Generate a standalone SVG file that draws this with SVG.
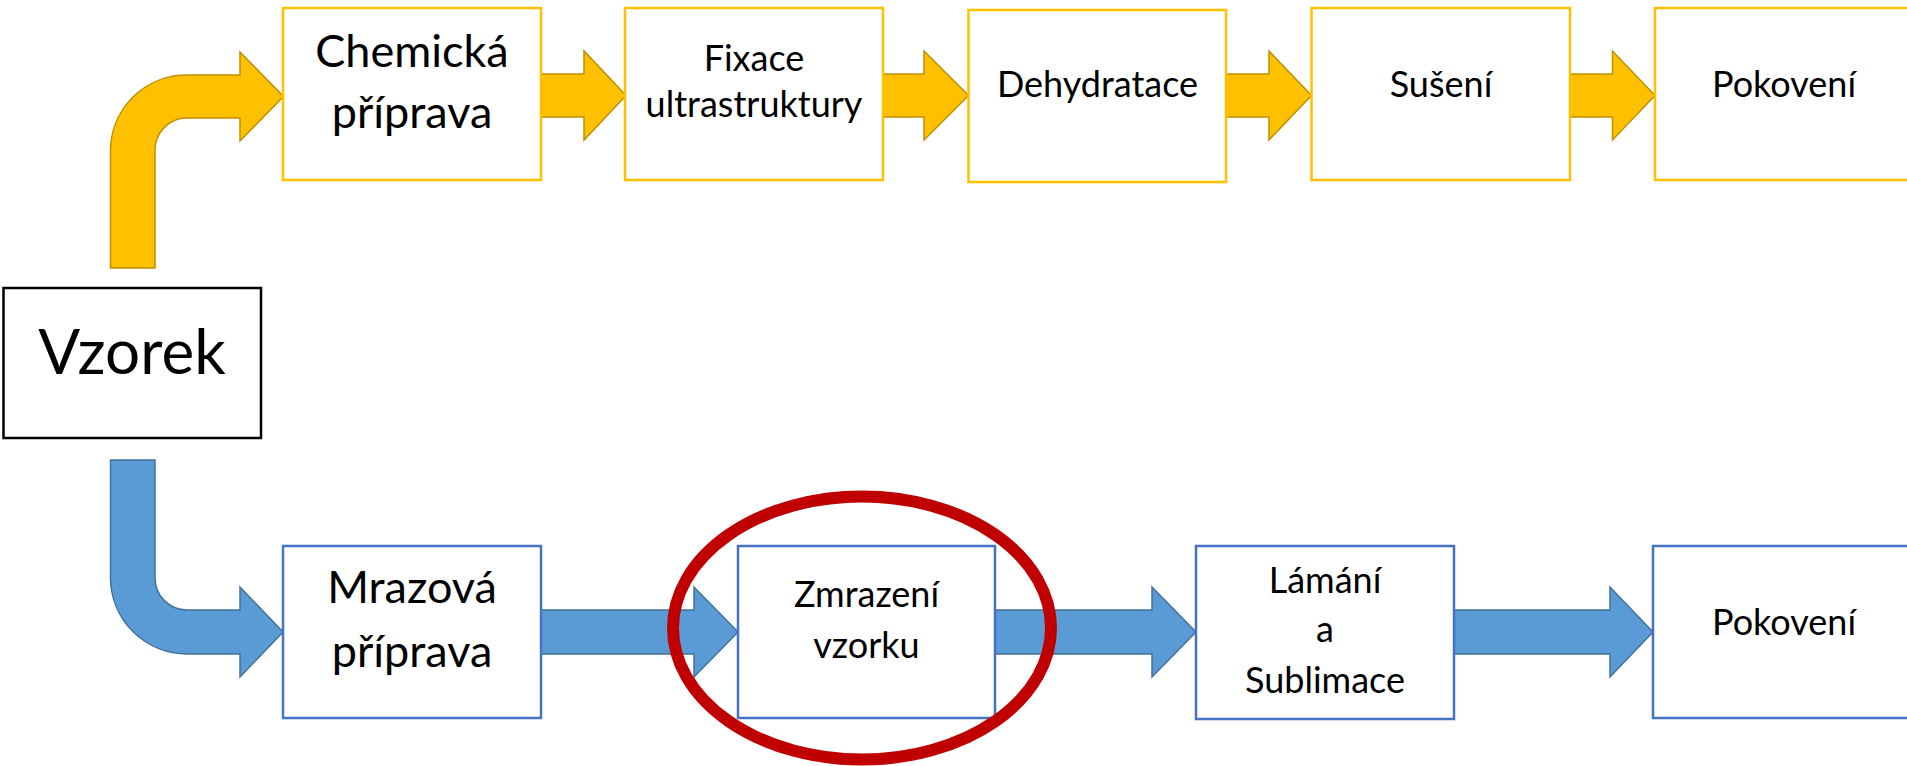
<svg xmlns="http://www.w3.org/2000/svg" width="1907" height="766" viewBox="0 0 1907 766">
  <style>
    .lbl { font-family: Lato, "Liberation Sans", sans-serif; fill: #000; text-anchor: middle; }
    .s { font-size: 36px; }
    .m { font-size: 45px; }
    .l { font-size: 62px; }
    .box-o { fill: #fff; stroke: #FFC000; stroke-width: 2.5; }
    .box-b { fill: #fff; stroke: #4472C4; stroke-width: 2.5; }
    .box-k { fill: #fff; stroke: #000; stroke-width: 2.5; }
    .arr-o { fill: #FFC000; stroke: #BF9000; stroke-width: 1.5; stroke-linejoin: miter; }
    .arr-b { fill: #5B9BD5; stroke: #41719C; stroke-width: 1.5; stroke-linejoin: miter; }
  </style>
  <rect width="1907" height="766" fill="#fff"/>

  <!-- block arrows between the steps -->
  <g id="connectors">
    <!-- upper branch: chemical preparation -->
    <path class="arr-o" d="M110.5,268 L110.5,151 A76,76 0 0 1 186.5,75 L240,75 L240,52 L283.5,96.5 L240,141 L240,118 L187,118 A32,32 0 0 0 155,150 L155,268 Z"/>
    <path class="arr-o" d="M541,74 L584,74 L584,51 L626,95.5 L584,140 L584,117 L541,117 Z"/>
    <path class="arr-o" d="M883,74 L924,74 L924,51 L968.5,95.5 L924,140 L924,117 L883,117 Z"/>
    <path class="arr-o" d="M1226,74 L1269,74 L1269,51 L1311.5,95.5 L1269,140 L1269,117 L1226,117 Z"/>
    <path class="arr-o" d="M1570,74 L1612.5,74 L1612.5,51 L1655,95.5 L1612.5,140 L1612.5,117 L1570,117 Z"/>
    <!-- lower branch: cryo preparation -->
    <path class="arr-b" d="M110.5,460 L155,460 L155,578 A32,32 0 0 0 187,610 L240,610 L240,587 L283,632 L240,677 L240,654 L187,654 A76.5,76.5 0 0 1 110.5,577.5 Z"/>
    <path class="arr-b" d="M541,610 L694,610 L694,587 L738,632 L694,677 L694,654 L541,654 Z"/>
    <path class="arr-b" d="M995,610 L1152,610 L1152,587 L1196,632 L1152,677 L1152,654 L995,654 Z"/>
    <path class="arr-b" d="M1454,610 L1610,610 L1610,587 L1653,632 L1610,677 L1610,654 L1454,654 Z"/>
  </g>

  <g id="vzorek">
    <rect class="box-k" x="3.5" y="288" width="257.5" height="150"/>
    <text class="lbl l" x="132" y="374">Vzorek</text>
  </g>

  <g id="chemicka-priprava">
    <rect class="box-o" x="283" y="8" width="258" height="172"/>
    <text class="lbl m" x="412" y="67">Chemická</text>
    <text class="lbl m" x="412" y="128">příprava</text>
  </g>
  <g id="fixace">
    <rect class="box-o" x="625" y="8" width="258" height="172"/>
    <text class="lbl s" x="754" y="71">Fixace</text>
    <text class="lbl s" x="754" y="117">ultrastruktury</text>
  </g>
  <g id="dehydratace">
    <rect class="box-o" x="968.5" y="10" width="257.5" height="172"/>
    <text class="lbl s" x="1097.5" y="97">Dehydratace</text>
  </g>
  <g id="suseni">
    <rect class="box-o" x="1311.5" y="8" width="258.5" height="172"/>
    <text class="lbl s" x="1441" y="97">Sušení</text>
  </g>
  <g id="pokoveni-chem">
    <rect class="box-o" x="1655" y="8" width="258" height="172"/>
    <text class="lbl s" x="1784" y="97">Pokovení</text>
  </g>

  <g id="mrazova-priprava">
    <rect class="box-b" x="283" y="546" width="258" height="172"/>
    <text class="lbl m" x="412" y="603">Mrazová</text>
    <text class="lbl m" x="412" y="667">příprava</text>
  </g>
  <g id="zmrazeni">
    <rect class="box-b" x="738" y="546" width="257" height="172"/>
    <text class="lbl s" x="866.5" y="607">Zmrazení</text>
    <text class="lbl s" x="866.5" y="658">vzorku</text>
  </g>
  <g id="lamani-sublimace">
    <rect class="box-b" x="1196" y="546" width="258" height="173"/>
    <text class="lbl s" x="1325" y="593">Lámání</text>
    <text class="lbl s" x="1325" y="642">a</text>
    <text class="lbl s" x="1325" y="693">Sublimace</text>
  </g>
  <g id="pokoveni-mraz">
    <rect class="box-b" x="1653" y="546" width="258" height="172"/>
    <text class="lbl s" x="1784" y="635">Pokovení</text>
  </g>

  <!-- highlight ring round the freezing step -->
  <g id="highlight">
    <ellipse cx="862" cy="628" rx="189" ry="131.5" fill="none" stroke="#C00000" stroke-width="12"/>
  </g>
</svg>
